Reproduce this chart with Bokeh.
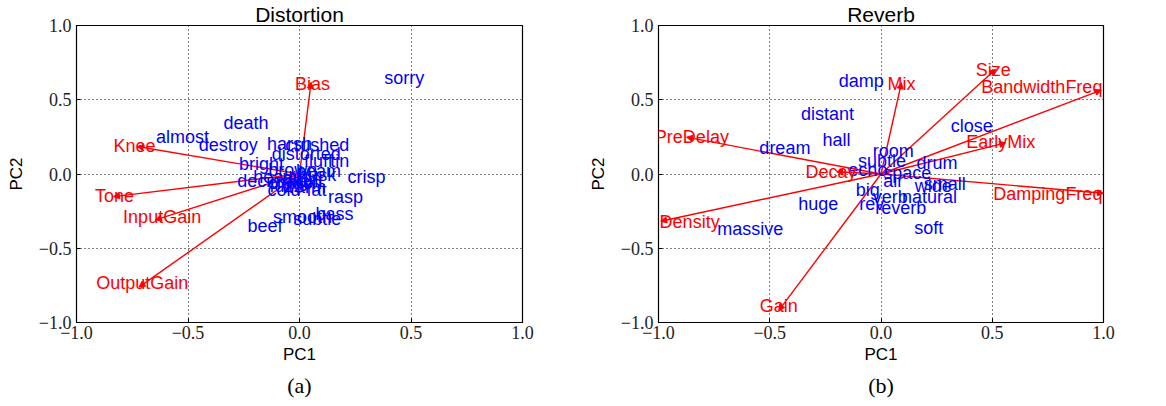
from bokeh.plotting import figure
from bokeh.models import (ColumnDataSource, Arrow, NormalHead, Label, FixedTicker,
                          CustomJSTickFormatter, LinearAxis)
from bokeh.layouts import row
from bokeh.embed import file_html
from bokeh.resources import INLINE
from bokeh.core.properties import value

# ---------------- Distortion (a) ----------------
dist_words = ["sorry", "death", "almost", "destroy", "harsh", "crushed", "distorted",
              "fluff", "tin", "bright", "brown", "beam", "heavy", "husk", "decimate",
              "crunch", "dirty", "fuzz", "warm", "grit", "cold", "fat",
              "crisp", "rasp", "bass", "subtle", "smooth", "beef"]
dist_wx = [0.47, -0.24, -0.525, -0.32, -0.045, 0.08, 0.03,
           0.085, 0.18, -0.17, -0.03, 0.085, -0.10, 0.08, -0.115,
           -0.02, 0.0, -0.06, 0.02, 0.05, -0.07, 0.076,
           0.30, 0.206, 0.157, 0.08, 0.014, -0.155]
dist_wy = [0.645, 0.345, 0.25, 0.196, 0.205, 0.198, 0.138,
           0.088, 0.088, 0.068, 0.024, 0.02, -0.02, -0.01, -0.045,
           -0.06, -0.03, -0.08, -0.09, -0.05, -0.11, -0.11,
           -0.02, -0.156, -0.266, -0.30, -0.29, -0.347]
dist_params = ["Bias", "Knee", "Tone", "InputGain", "OutputGain"]
dist_px = [0.052, -0.728, -0.834, -0.646, -0.72]
dist_py = [0.618, 0.185, -0.152, -0.309, -0.762]
dist_lx = [0.058, -0.74, -0.83, -0.616, -0.705]
dist_ly = [0.605, 0.19, -0.148, -0.29, -0.735]
dist_la = ["center", "center", "center", "center", "center"]

# ---------------- Reverb (b) ----------------
rev_words = ["damp", "distant", "close", "hall", "dream", "room", "subtle", "drum",
             "echo", "space", "air", "small", "wide", "big", "verb", "natural",
             "huge", "rev", "reverb", "massive", "soft"]
rev_wx = [-0.089, -0.24, 0.408, -0.20, -0.432, 0.055, 0.005, 0.252,
          -0.059, 0.118, 0.055, 0.286, 0.235, -0.059, 0.042, 0.218,
          -0.282, -0.042, 0.089, -0.588, 0.215]
rev_wy = [0.625, 0.405, 0.32, 0.226, 0.176, 0.154, 0.086, 0.075,
          0.024, 0.008, -0.044, -0.066, -0.082, -0.107, -0.156, -0.152,
          -0.205, -0.205, -0.23, -0.369, -0.362]
rev_params = ["Mix", "Size", "BandwidthFreq", "EarlyMix", "PreDelay", "DampingFreq",
              "Density", "Gain", "Decay"]
rev_px = [0.092, 0.515, 0.99, 0.56, -0.874, 1.0, -0.99, -0.46, -0.20]
rev_py = [0.615, 0.705, 0.565, 0.21, 0.248, -0.13, -0.318, -0.92, 0.015]
rev_lx = [0.092, 0.505, 0.995, 0.538, -0.85, 0.995, -0.995, -0.46, -0.225]
rev_ly = [0.608, 0.70, 0.585, 0.214, 0.252, -0.134, -0.324, -0.89, 0.012]
rev_la = ["center", "center", "right", "center", "center", "right", "left", "center", "center"]

ticks = [-1.0, -0.5, 0.0, 0.5, 1.0]

SANS = "Liberation Sans"
SERIF = "Liberation Serif"


def make(title, caption, words, wx, wy, params, px, py, lx, ly, la, left, right):
    p = figure(width=583, height=406, x_range=(-1, 1), y_range=(-1, 1),
               output_backend="svg", toolbar_location=None,
               min_border_left=left, min_border_right=right,
               min_border_top=25, min_border_bottom=84)
    p.title.text = title
    p.title.text_font = SANS
    p.title.text_font_size = "21px"
    p.title.text_font_style = "normal"
    p.title.text_color = "black"
    p.title.align = "center"
    p.title.standoff = 0
    p.title.offset = 0

    p.outline_line_color = "black"
    p.outline_line_alpha = 1.0
    p.outline_line_width = 1.2
    fmt = CustomJSTickFormatter(code="return (tick < 0 ? '\u2212' : '') + Math.abs(tick).toFixed(1);")
    for ax in (p.xaxis[0], p.yaxis[0]):
        ax.ticker = FixedTicker(ticks=ticks)
        ax.formatter = fmt
        ax.major_label_text_font = SERIF
        ax.major_label_text_font_size = "18px"
        ax.major_label_text_color = "#222222"
        ax.major_tick_in = 4
        ax.major_tick_out = 0
        ax.minor_tick_in = 0
        ax.minor_tick_out = 0
        ax.axis_line_color = "black"
        ax.major_tick_line_color = "black"
        ax.axis_label_text_font = SANS
        ax.axis_label_text_font_size = "17px"
        ax.axis_label_text_font_style = "normal"
        ax.axis_label_text_color = "black"
    p.xaxis.axis_label = "PC1"
    p.yaxis.axis_label = "PC2"
    p.xaxis.major_label_standoff = 3
    p.xaxis.axis_label_standoff = 3
    p.yaxis.major_label_standoff = 5
    p.yaxis.axis_label_standoff = 10
    for g in (p.xgrid[0], p.ygrid[0]):
        g.ticker = FixedTicker(ticks=[-0.5, 0.0, 0.5])
        g.grid_line_color = "black"
        g.grid_line_dash = "1 3"
        g.grid_line_width = 1
        g.grid_line_alpha = 1.0

    # caption (a)/(b) as an extra tickless axis below
    cap = LinearAxis(ticker=FixedTicker(ticks=[]), axis_label=caption,
                     axis_line_color=None, major_tick_line_color=None,
                     minor_tick_line_color=None, major_label_text_font_size="1px",
                     axis_label_text_font=SERIF, axis_label_text_font_size="22px",
                     axis_label_text_font_style="normal", axis_label_text_color="black",
                     axis_label_standoff=6)
    p.add_layout(cap, "below")

    asrc = ColumnDataSource(dict(x0=[0.0] * len(px), y0=[0.0] * len(px), x=px, y=py))
    arr = Arrow(end=NormalHead(size=6, fill_color="red", line_color="red", line_width=1),
                x_start="x0", y_start="y0", x_end="x", y_end="y", source=asrc,
                line_color="red", line_width=1.4, level="underlay")
    p.add_layout(arr)

    wsrc = ColumnDataSource(dict(x=wx, y=wy, w=words))
    p.text(x="x", y="y", text="w", source=wsrc, text_font=value(SANS),
           text_font_size="18px", text_color="#0000ff", text_align="center",
           text_baseline="middle")

    for name, x, y, a in zip(params, lx, ly, la):
        p.add_layout(Label(x=x, y=y, text=name, text_font=SANS, text_font_size="18px",
                           text_color="#ff0000", text_align=a, text_baseline="middle"))
    return p


p1 = make("Distortion", "(a)", dist_words, dist_wx, dist_wy, dist_params,
          dist_px, dist_py, dist_lx, dist_ly, dist_la, 76, 61)
p2 = make("Reverb", "(b)", rev_words, rev_wx, rev_wy, rev_params,
          rev_px, rev_py, rev_lx, rev_ly, rev_la, 75, 63)

layout = row(p1, p2)
open("out.html", "w").write(file_html(layout, INLINE))
